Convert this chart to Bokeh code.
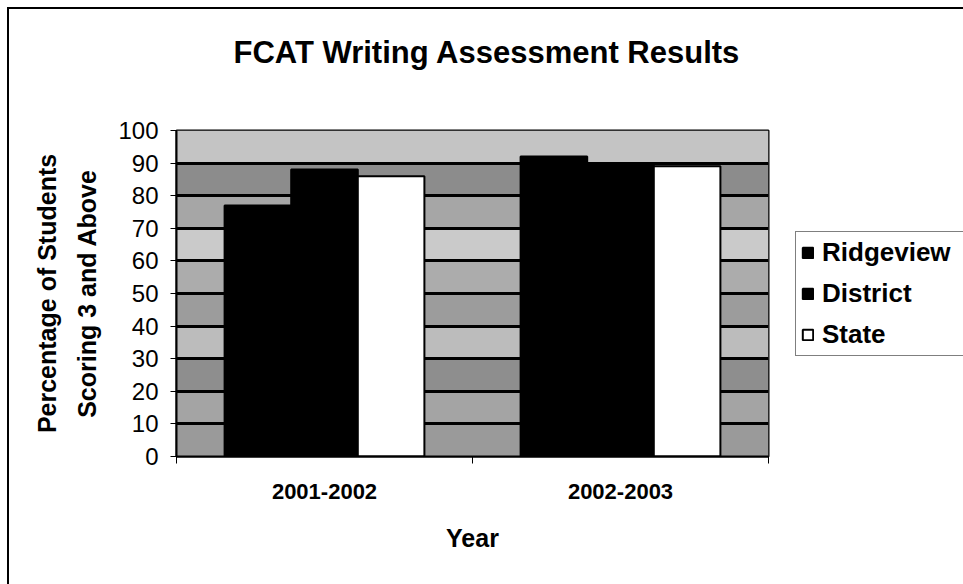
from bokeh.plotting import figure
from bokeh.models import (ColumnDataSource, FixedTicker, BoxAnnotation, Range1d,
                          Legend, LegendItem)
from bokeh.transform import dodge
from bokeh.embed import file_html
from bokeh.resources import INLINE

# ---- data ----
title_text = "FCAT Writing Assessment Results"
categories = ["2001-2002", "2002-2003"]
series = ["Ridgeview", "District", "State"]
ridgeview = [77, 92]
district = [88, 90]
state = [86, 89]
y_ticks = [0, 10, 20, 30, 40, 50, 60, 70, 80, 90, 100]

# ---- styles ----
FONT = "Liberation Sans"
band_colors = ["#9a9a9a", "#a4a4a4", "#8e8e8e", "#bcbcbc", "#9c9c9c",
               "#acacac", "#cacaca", "#a6a6a6", "#8c8c8c", "#c4c4c4"]

centers = [i + 0.5 for i in range(len(categories))]
source = ColumnDataSource(dict(x=centers, cat=categories,
                               Ridgeview=ridgeview, District=district, State=state))

p = figure(frame_width=592, frame_height=326,
           x_range=Range1d(0, len(categories)), y_range=Range1d(0, 100),
           output_backend="svg", toolbar_location=None,
           min_border_left=167, min_border_right=195,
           min_border_top=121, min_border_bottom=128,
           title=title_text + "\n")
p.styles = {"outline": "2px solid black", "margin-left": "9px", "margin-top": "9px"}

# textured background bands
for i, c in enumerate(band_colors):
    p.add_layout(BoxAnnotation(bottom=y_ticks[i], top=y_ticks[i + 1],
                               fill_color=c, fill_alpha=1.0, line_alpha=0,
                               level="image"))

p.background_fill_color = "#a8a8a8"
p.border_fill_color = "white"
p.outline_line_color = "black"
p.outline_line_width = 2

w = 0.225
offsets = [-w, 0.0, w]
fills = ["black", "black", "white"]
renderers = []
for name, off, fc in zip(series, offsets, fills):
    r = p.vbar(x=dodge("x", off), top=name, width=w, source=source,
               fill_color=fc, line_color="black", line_width=2)
    renderers.append(r)

# grid
p.xgrid.grid_line_color = None
p.ygrid.ticker = FixedTicker(ticks=y_ticks)
p.ygrid.grid_line_color = "black"
p.ygrid.grid_line_width = 3
p.ygrid.level = "underlay"

# y axis
p.yaxis.ticker = FixedTicker(ticks=y_ticks)
p.yaxis.axis_label = "Percentage of Students\nScoring 3 and Above"
p.yaxis.axis_label_text_font = FONT
p.yaxis.axis_label_text_font_style = "bold"
p.yaxis.axis_label_text_font_size = "25px"
p.yaxis.axis_label_text_color = "black"
p.yaxis.axis_label_text_line_height = 1.45
p.yaxis.axis_label_standoff = 14
p.yaxis.major_label_text_font = FONT
p.yaxis.major_label_text_font_size = "24px"
p.yaxis.major_label_text_color = "black"
p.yaxis.major_label_standoff = 12
p.yaxis.major_tick_out = 6
p.yaxis.major_tick_in = 0
p.yaxis.minor_tick_line_color = None
p.yaxis.axis_line_width = 2
p.yaxis.axis_line_color = "black"

# x axis
p.xaxis.ticker = FixedTicker(ticks=centers, minor_ticks=[0, 1, 2])
p.xaxis.major_label_overrides = {c: lab for c, lab in zip(centers, categories)}
p.xaxis.major_tick_line_color = None
p.xaxis.minor_tick_out = 7
p.xaxis.minor_tick_in = 0
p.xaxis.minor_tick_line_color = "black"
p.xaxis.major_label_text_font = FONT
p.xaxis.major_label_text_font_style = "bold"
p.xaxis.major_label_text_font_size = "22px"
p.xaxis.major_label_text_color = "black"
p.xaxis.major_label_standoff = 20
p.xaxis.axis_label = "Year"
p.xaxis.axis_label_text_font = FONT
p.xaxis.axis_label_text_font_style = "bold"
p.xaxis.axis_label_text_font_size = "25px"
p.xaxis.axis_label_text_color = "black"
p.xaxis.axis_label_standoff = 22
p.xaxis.axis_line_width = 2
p.xaxis.axis_line_color = "black"

# title
p.title.text_font = FONT
p.title.text_font_size = "31px"
p.title.text_font_style = "bold"
p.title.text_color = "black"
p.title.text_line_height = 1.4
p.title.align = "left"
p.title.offset = 57
p.title.standoff = 24

# legend (right panel)
legend = Legend(items=[LegendItem(label=n, renderers=[r]) for n, r in zip(series, renderers)],
                location=(27, 100))
legend.glyph_width = 13
legend.glyph_height = 13
legend.label_standoff = 8
legend.label_height = 22
legend.label_width = 160
legend.spacing = 10
legend.padding = 5
legend.margin = 0
legend.label_text_font = FONT
legend.label_text_font_style = "bold"
legend.label_text_font_size = "26px"
legend.label_text_color = "black"
legend.border_line_color = "black"
legend.border_line_width = 1
legend.background_fill_color = "white"
legend.background_fill_alpha = 1.0
p.add_layout(legend, "right")

open("out.html", "w").write(file_html(p, INLINE))
